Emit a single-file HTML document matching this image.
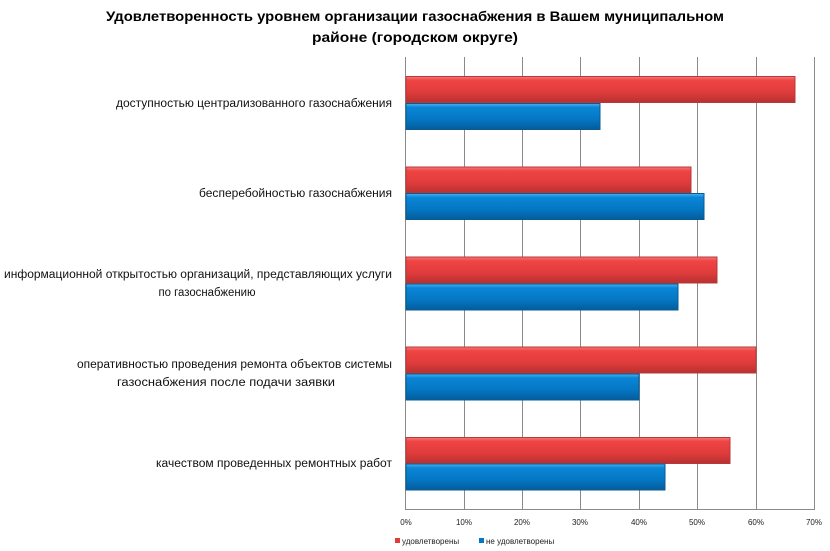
<!DOCTYPE html>
<html><head><meta charset="utf-8"><style>
html,body{margin:0;padding:0;background:#fff}
svg{display:block}
text{font-family:"Liberation Sans",sans-serif}
</style></head><body>
<svg width="830" height="551" viewBox="0 0 830 551" xmlns="http://www.w3.org/2000/svg">
<defs>
<linearGradient id="r" x1="0" y1="0" x2="0" y2="1">
<stop offset="0" stop-color="#f47a7a"/><stop offset="0.15" stop-color="#f04444"/><stop offset="0.6" stop-color="#e03c3c"/><stop offset="1" stop-color="#b83030"/></linearGradient>
<linearGradient id="b" x1="0" y1="0" x2="0" y2="1">
<stop offset="0" stop-color="#4ab0f0"/><stop offset="0.15" stop-color="#0a86d6"/><stop offset="0.6" stop-color="#0577c4"/><stop offset="1" stop-color="#045c9c"/></linearGradient>
</defs>
<text x="415" y="21" text-anchor="middle" font-size="14" font-weight="bold" textLength="618" lengthAdjust="spacingAndGlyphs">Удовлетворенность уровнем организации газоснабжения в Вашем муниципальном</text>
<text x="415" y="42" text-anchor="middle" font-size="14" font-weight="bold" textLength="206" lengthAdjust="spacingAndGlyphs">районе (городском округе)</text>
<g stroke="#8a8a8a" stroke-width="1">
<line x1="405.5" y1="57" x2="405.5" y2="509"/>
<line x1="464.5" y1="57" x2="464.5" y2="509"/>
<line x1="522.5" y1="57" x2="522.5" y2="509"/>
<line x1="580.5" y1="57" x2="580.5" y2="509"/>
<line x1="639.5" y1="57" x2="639.5" y2="509"/>
<line x1="697.5" y1="57" x2="697.5" y2="509"/>
<line x1="756.5" y1="57" x2="756.5" y2="509"/>
<line x1="814.5" y1="57" x2="814.5" y2="509"/>
<line x1="405" y1="509.5" x2="815" y2="509.5"/>
</g>
<g stroke-width="1">
<rect x="406" y="76.5" width="389" height="26" fill="url(#r)" stroke="#b53a3a"/>
<rect x="406" y="103.5" width="194" height="26" fill="url(#b)" stroke="#0a5c90"/>
<rect x="406" y="167" width="285" height="26" fill="url(#r)" stroke="#b53a3a"/>
<rect x="406" y="193.5" width="298" height="26" fill="url(#b)" stroke="#0a5c90"/>
<rect x="406" y="257" width="311" height="26" fill="url(#r)" stroke="#b53a3a"/>
<rect x="406" y="284" width="272" height="26" fill="url(#b)" stroke="#0a5c90"/>
<rect x="406" y="347" width="350" height="26" fill="url(#r)" stroke="#b53a3a"/>
<rect x="406" y="374" width="233" height="26" fill="url(#b)" stroke="#0a5c90"/>
<rect x="406" y="437.5" width="324" height="26" fill="url(#r)" stroke="#b53a3a"/>
<rect x="406" y="464" width="259" height="26" fill="url(#b)" stroke="#0a5c90"/>
</g>
<g font-size="11.5" fill="#111">
<text x="392" y="107" text-anchor="end" textLength="276" lengthAdjust="spacingAndGlyphs">доступностью централизованного газоснабжения</text>
<text x="392" y="197" text-anchor="end" textLength="193" lengthAdjust="spacingAndGlyphs">бесперебойностью газоснабжения</text>
<text x="392" y="278" text-anchor="end" textLength="388" lengthAdjust="spacingAndGlyphs">информационной открытостью организаций, представляющих услуги</text>
<text x="207" y="296" text-anchor="middle" textLength="97" lengthAdjust="spacingAndGlyphs">по газоснабжению</text>
<text x="392" y="368" text-anchor="end" textLength="315" lengthAdjust="spacingAndGlyphs">оперативностью проведения ремонта объектов системы</text>
<text x="226" y="386" text-anchor="middle" textLength="218" lengthAdjust="spacingAndGlyphs">газоснабжения после подачи заявки</text>
<text x="392" y="467" text-anchor="end" textLength="236" lengthAdjust="spacingAndGlyphs">качеством проведенных ремонтных работ</text>
</g>
<g font-size="8" text-anchor="middle" fill="#222">
<text x="406" y="525">0%</text><text x="464" y="525">10%</text><text x="522" y="525">20%</text><text x="580" y="525">30%</text><text x="639" y="525">40%</text><text x="697" y="525">50%</text><text x="756" y="525">60%</text><text x="814" y="525">70%</text>
</g>
<rect x="395" y="538" width="5" height="5" fill="#e03c3c"/>
<text x="402" y="544" font-size="8" fill="#222">удовлетворены</text>
<rect x="479" y="538" width="5" height="5" fill="#0577c4"/>
<text x="486" y="544" font-size="8" fill="#222">не удовлетворены</text>
</svg>
</body></html>
